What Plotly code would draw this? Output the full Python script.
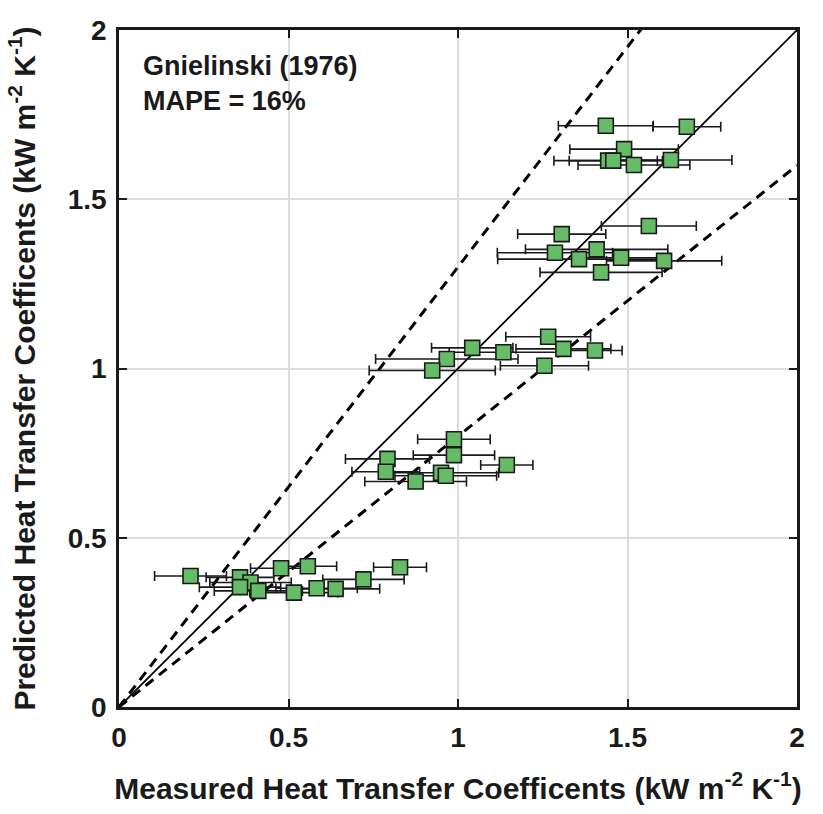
import plotly.graph_objects as go

# Measured (x) vs predicted (y) heat transfer coefficients, kW m^-2 K^-1
measured = [0.211, 0.357, 0.388, 0.357, 0.411, 0.478, 0.557, 0.516, 0.583, 0.639, 0.721, 0.829,
            0.988, 0.988, 0.792, 0.787, 0.950, 0.964, 0.875, 1.144,
            1.042, 0.967, 0.924, 1.134, 1.266, 1.311, 1.404, 1.255,
            1.306, 1.563, 1.286, 1.409, 1.357, 1.481, 1.608, 1.422,
            1.436, 1.675, 1.490, 1.443, 1.458, 1.519, 1.628]
predicted = [0.387, 0.383, 0.368, 0.354, 0.343, 0.410, 0.416, 0.338, 0.351, 0.349, 0.377, 0.413,
             0.791, 0.744, 0.733, 0.695, 0.692, 0.683, 0.666, 0.715,
             1.061, 1.028, 0.994, 1.048, 1.094, 1.058, 1.053, 1.008,
             1.397, 1.421, 1.342, 1.352, 1.323, 1.327, 1.318, 1.284,
             1.717, 1.714, 1.648, 1.614, 1.614, 1.601, 1.616]
x_error = [0.106, 0.100, 0.120, 0.120, 0.130, 0.090, 0.085, 0.130, 0.120, 0.130, 0.120, 0.078,
           0.107, 0.120, 0.124, 0.100, 0.170, 0.150, 0.150, 0.077,
           0.120, 0.210, 0.186, 0.160, 0.125, 0.140, 0.080, 0.130,
           0.130, 0.140, 0.170, 0.210, 0.240, 0.140, 0.170, 0.180,
           0.140, 0.100, 0.160, 0.160, 0.130, 0.165, 0.180]

parity_x = [0, 2]
parity_y = [0, 2]
upper_factor = 1.3
lower_factor = 0.8
tick_vals = [0, 0.5, 1, 1.5, 2]
tick_text = ["0", "0.5", "1", "1.5", "2"]

FONT = "Liberation Sans, Arial, sans-serif"
INK = "#1a1a1a"

fig = go.Figure()

fig.add_trace(go.Scatter(
    x=parity_x, y=parity_y, mode="lines",
    line=dict(color="black", width=1.8), showlegend=False, hoverinfo="skip"))
fig.add_trace(go.Scatter(
    x=parity_x, y=[v * upper_factor for v in parity_x], mode="lines",
    line=dict(color="black", width=3, dash="10px,7px"), showlegend=False, hoverinfo="skip"))
fig.add_trace(go.Scatter(
    x=parity_x, y=[v * lower_factor for v in parity_x], mode="lines",
    line=dict(color="black", width=3, dash="10px,7px"), showlegend=False, hoverinfo="skip"))

fig.add_trace(go.Scatter(
    x=measured, y=predicted, mode="markers",
    error_x=dict(type="data", array=x_error, symmetric=True,
                 color=INK, thickness=1.6, width=5),
    marker=dict(symbol="square", size=15, color="#66BC66",
                line=dict(color=INK, width=1.6)),
    showlegend=False, cliponaxis=False))

axis_common = dict(
    range=[0, 2], tickvals=tick_vals, ticktext=tick_text,
    showgrid=True, gridcolor="#dcdcdc", gridwidth=1.5,
    showline=True, linecolor=INK, linewidth=2.5, mirror="ticks",
    ticks="inside", ticklen=8, tickwidth=2, tickcolor=INK,
    zeroline=False,
    tickfont=dict(family=FONT, size=28, color=INK, weight="bold"),
)

fig.update_xaxes(**axis_common, ticklabelstandoff=4,
                 title=dict(text="Measured Heat Transfer Coefficents (kW m<sup>-2</sup> K<sup>-1</sup>)",
                            font=dict(family=FONT, size=30, color=INK, weight="bold"),
                            standoff=26))
fig.update_yaxes(**axis_common, ticklabelstandoff=4,
                 title=dict(text="Predicted Heat Transfer Coefficents (kW m<sup>-2</sup> K<sup>-1</sup>)",
                            font=dict(family=FONT, size=30, color=INK, weight="bold"),
                            standoff=24))

fig.add_annotation(
    xref="paper", yref="paper", x=0.032, y=0.972, xanchor="left", yanchor="top",
    text="<b>Gnielinski (1976)</b><br><b>MAPE = 16%</b>", align="left", showarrow=False,
    font=dict(family=FONT, size=27, color=INK))

fig.update_layout(
    width=823, height=814,
    margin=dict(l=119, r=26, t=30, b=107),
    plot_bgcolor="white", paper_bgcolor="white",
)

fig.write_html("out.html")
